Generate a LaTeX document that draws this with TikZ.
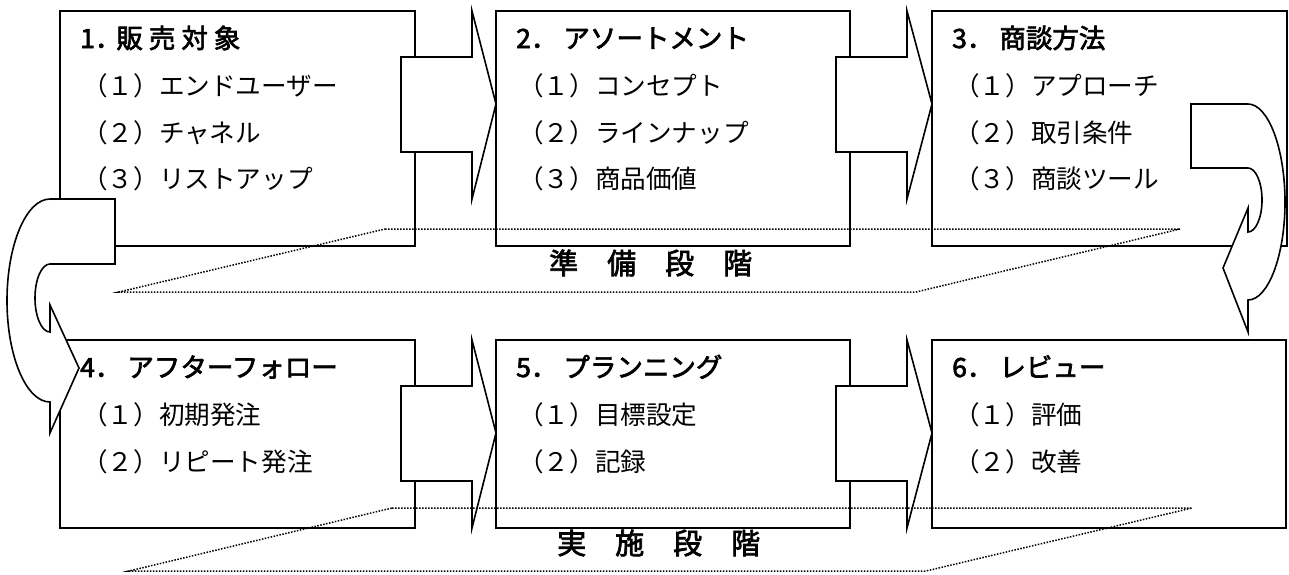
\documentclass[tikz,border=0pt]{standalone}
\usepackage{fontspec}
\setmainfont{Noto Sans CJK JP}
\newfontfamily\gothicfont{Noto Sans CJK JP}[FakeBold=2.5]
\usetikzlibrary{calc}
\begin{document}
\begin{tikzpicture}[x=1pt,y=-1pt,
  box/.style={draw, line width=1.8pt, fill=white, anchor=north west, inner sep=0pt, outer sep=0pt},
  blockarr/.style={draw, line width=1.6pt, fill=white, line join=miter},
  curvarr/.style={draw, line width=1.6pt, fill=white, line join=miter},
  phase/.style={draw, line width=1.5pt, dash pattern=on 1.5pt off 1.5pt},
  ttl/.style={anchor=base west, inner sep=0pt, font=\fontsize{26.5}{30}\gothicfont},
  itm/.style={anchor=base west, inner sep=0pt, font=\fontsize{25.6}{30}\selectfont},
  stage/.style={anchor=base west, inner sep=0pt, font=\fontsize{29}{32}\gothicfont}
]
\useasboundingbox (0,0) rectangle (1289,574);

% boxes
\node[box, minimum width=355pt, minimum height=235pt] (b1) at (60,11) {};
\node[box, minimum width=354pt, minimum height=235pt] (b2) at (496,11) {};
\node[box, minimum width=355pt, minimum height=235pt] (b3) at (932,11) {};
\node[box, minimum width=355pt, minimum height=188pt] (b4) at (60,340) {};
\node[box, minimum width=354pt, minimum height=188pt] (b5) at (496,340) {};
\node[box, minimum width=354pt, minimum height=188pt] (b6) at (932,340) {};

% titles
\node[ttl] (t1) at ($(b1.north west)+(20,37)$) {1．\hspace{-5pt}販\hspace{6pt}売\hspace{6pt}対\hspace{6pt}象};
\node[ttl] (t2) at ($(b2.north west)+(20,37)$) {2．\hspace{6pt}アソートメント};
\node[ttl] (t3) at ($(b3.north west)+(20,37)$) {3．\hspace{6pt}商談方法};
\node[ttl] (t4) at ($(b4.north west)+(20,37)$) {4．\hspace{6pt}アフターフォロー};
\node[ttl] (t5) at ($(b5.north west)+(20,37)$) {5．\hspace{6pt}プランニング};
\node[ttl] (t6) at ($(b6.north west)+(20,37)$) {6．\hspace{6pt}レビュー};

% items
\node[itm] (i11) at ($(b1.north west)+(22,84)$) {（１）エンドユーザー};
\node[itm] (i12) at ($(b1.north west)+(22,131)$) {（２）チャネル};
\node[itm] (i13) at ($(b1.north west)+(22,177)$) {（３）リストアップ};
\node[itm] (i21) at ($(b2.north west)+(22,84)$) {（１）コンセプト};
\node[itm] (i22) at ($(b2.north west)+(22,131)$) {（２）ラインナップ};
\node[itm] (i23) at ($(b2.north west)+(22,177)$) {（３）商品価値};
\node[itm] (i31) at ($(b3.north west)+(22,84)$) {（１）アプローチ};
\node[itm] (i32) at ($(b3.north west)+(22,131)$) {（２）取引条件};
\node[itm] (i33) at ($(b3.north west)+(22,177)$) {（３）商談ツール};
\node[itm] (i41) at ($(b4.north west)+(22,84)$) {（１）初期発注};
\node[itm] (i42) at ($(b4.north west)+(22,131)$) {（２）リピート発注};
\node[itm] (i51) at ($(b5.north west)+(22,84)$) {（１）目標設定};
\node[itm] (i52) at ($(b5.north west)+(22,131)$) {（２）記録};
\node[itm] (i61) at ($(b6.north west)+(22,84)$) {（１）評価};
\node[itm] (i62) at ($(b6.north west)+(22,131)$) {（２）改善};

% block arrows between boxes
\foreach \a/\b in {b1/b2,b2/b3,b4/b5,b5/b6}{
  \draw[blockarr] ($(\a.north east)+(-14,46)$) -- ($(\a.north east)+(57,46)$)
    -- ($(\a.north east)+(57,0)$) -- ($(\b.north west)+(0,93)$)
    -- ($(\a.north east)+(57,188)$) -- ($(\a.north east)+(57,141)$)
    -- ($(\a.north east)+(-14,141)$) -- cycle;
}

% curved arrow b3 -> b6 (right side)
\draw[curvarr] (1191,104) -- (1248,104)
  .. controls (1268,104) and (1285,148) .. (1285,202)
  .. controls (1285,256) and (1268,300) .. (1248,300)
  -- (1248,332) -- (1223,268) -- (1248,208) -- (1248,232)
  .. controls (1255.7,232) and (1262,217.7) .. (1262,200)
  .. controls (1262,182.3) and (1255.7,168) .. (1248,168)
  -- (1191,168) -- cycle;

% curved arrow b1 -> b4 (left side)
\draw[curvarr] (115,199) -- (50,199)
  .. controls (26.3,199) and (7,244.5) .. (7,300.5)
  .. controls (7,356.5) and (26.3,402) .. (50,402)
  -- (50,433) -- (79,368) -- (50,305) -- (50,332)
  .. controls (41.7,332) and (35,316.8) .. (35,298)
  .. controls (35,279.2) and (41.7,264) .. (50,264)
  -- (115,264) -- cycle;

% phase bands
\draw[phase] (385,229) -- (1180,229) -- (916,292) -- (119,292) -- cycle;
\draw[phase] (392,508) -- (1192,508) -- (926,571) -- (129,571) -- cycle;
\node[stage] (s1) at (549,274) {準　備　段　階};
\node[stage] (s2) at (557,554) {実　施　段　階};
\end{tikzpicture}
\end{document}
